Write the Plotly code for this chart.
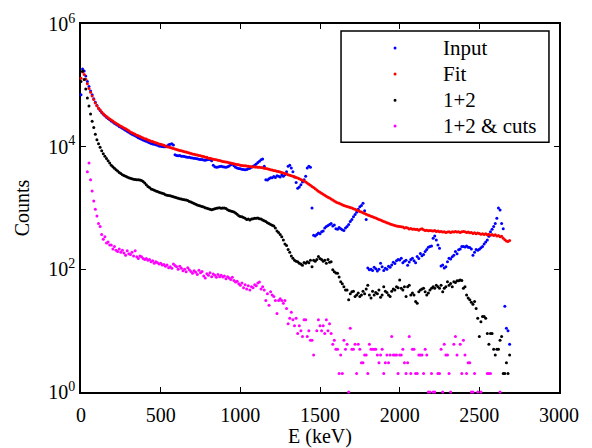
import plotly.graph_objects as go

# energy bins (keV), 10 keV wide
ENERGY = list(range(0, 2700, 10))

INPUT = [
    70000, 185000, 172000, 142000, 116000, 96000, 81000, 70000, 60500, 53000,
    47000, 42500, 39000, 36200, 33800, 31800, 30200, 28800, 27500, 26300,
    25200, 24200, 23200, 22300, 21400, 20700, 19900, 19200, 18500, 17900,
    17200, 16600, 16000, 15500, 15000, 14500, 14000, 13600, 13200, 12800,
    12500, 12200, 11900, 11600, 11300, 11100, 10900, 10700, 10500, 10300,
    10200, 10050, 9950, 10000, 10300, 10700, 11000, 11200, 10600, 7400,
    7200, 7100, 7150, 7000, 6950, 6900, 6800, 6750, 6700, 6600,
    6550, 6450, 6400, 6350, 6250, 6200, 6150, 6050, 6000, 6100,
    6150, 6200, 5900, 5000, 4700, 4600, 4650, 4750, 4800, 4700,
    4650, 4600, 4700, 4850, 5050, 5150, 4900, 4600, 4500, 4400,
    4350, 4300, 4250, 4200, 4250, 4350, 4450, 4600, 4800, 5000,
    5200, 5500, 5800, 6100, 6300, 4800, 2900, 2850, 3000, 3100,
    3100, 3250, 3150, 3350, 3300, 3200, 3450, 3300, 3500, 3900,
    4800, 5000, 4500, 3900, 3200, 2600, 2100, 2200, 2400, 2650,
    2900, 3300, 4500, 4800, 4600, 1000, 360, 350, 370, 390,
    380, 410, 420, 470, 500, 520, 540, 560, 510, 530,
    460, 450, 480, 460, 440, 430, 470, 500, 540, 600,
    650, 720, 780, 850, 950, 1050, 1100, 1200, 900, 650,
    105, 98, 100, 96, 108, 102, 94, 100, 126, 110,
    96, 104, 100, 112, 108, 118, 130, 124, 138, 145,
    142, 151, 128, 135, 141, 117, 132, 145, 151, 138,
    128, 162, 150, 182, 166, 175, 195, 210, 230, 235,
    240, 320, 350, 300, 250, 220, 113, 118, 105, 110,
    133, 151, 148, 160, 170, 195, 180, 208, 215, 235,
    235, 232, 240, 230, 228, 215, 170, 190, 210, 205,
    212, 225, 235, 260, 280, 300, 345, 410, 450, 500,
    560, 680, 1000, 930, 560, 460, 25, 11, 10, 6,
]

FIT = [
    130000, 165000, 150000, 126000, 106000, 89000, 77000, 67000, 58500, 51500,
    46500, 42500, 39500, 36800, 34300, 32600, 30900, 29600, 28200, 27200,
    26100, 25000, 24100, 23100, 22400, 21500, 20900, 20100, 19600, 18800,
    18100, 17400, 16900, 16400, 16000, 15400, 15000, 14700, 14200, 13900,
    13500, 13300, 12900, 12600, 12300, 12100, 11800, 11600, 11400, 11100,
    10900, 10700, 10500, 10300, 10000, 9850, 9650, 9500, 9300, 9150,
    9000, 8850, 8700, 8600, 8400, 8300, 8150, 8050, 7850, 7750,
    7600, 7500, 7400, 7300, 7200, 7100, 7000, 6900, 6750, 6700,
    6500, 6450, 6350, 6250, 6200, 6100, 6000, 5950, 5850, 5750,
    5700, 5600, 5550, 5450, 5400, 5300, 5250, 5150, 5100, 5050,
    5000, 4950, 4900, 4880, 4820, 4800, 4760, 4720, 4700, 4680,
    4650, 4620, 4600, 4560, 4520, 4460, 4420, 4360, 4300, 4220,
    4150, 4100, 4040, 3980, 3920, 3850, 3780, 3720, 3640, 3570,
    3500, 3430, 3370, 3300, 3230, 3150, 3080, 3000, 2920, 2840,
    2750, 2650, 2560, 2450, 2350, 2250, 2150, 2060, 1970, 1880,
    1800, 1740, 1680, 1620, 1560, 1500, 1450, 1400, 1350, 1300,
    1250, 1220, 1190, 1160, 1130, 1100, 1080, 1060, 1040, 1020,
    1000, 975, 950, 925, 900, 880, 860, 840, 815, 790,
    770, 755, 735, 720, 700, 685, 665, 650, 635, 620,
    600, 590, 575, 565, 550, 540, 530, 520, 510, 505,
    500, 495, 490, 470, 480, 470, 455, 465, 450, 455,
    445, 450, 435, 450, 460, 440, 430, 435, 425, 430,
    425, 420, 430, 415, 420, 410, 415, 405, 410, 400,
    405, 410, 400, 410, 405, 415, 405, 410, 400, 410,
    415, 410, 400, 405, 395, 400, 385, 395, 380, 390,
    385, 375, 380, 370, 380, 365, 375, 360, 370, 355,
    365, 350, 355, 340, 345, 320, 305, 290, 285, 295,
]

SUM12 = [
    115000, 170000, 125000, 87000, 62000, 46000, 34000, 26000, 20500, 16000,
    13000, 11200, 9800, 8600, 7700, 7000, 6400, 5900, 5400, 5000,
    4700, 4450, 4200, 4000, 3800, 3650, 3500, 3400, 3300, 3200,
    3100, 3050, 3000, 2950, 2920, 2900, 2880, 2850, 2800, 2700,
    2550, 2400, 2250, 2150, 2050, 2000, 1950, 1900, 1850, 1800,
    1780, 1740, 1700, 1650, 1620, 1600, 1580, 1550, 1520, 1500,
    1470, 1440, 1420, 1400, 1380, 1360, 1350, 1320, 1280, 1250,
    1220, 1180, 1150, 1120, 1100, 1080, 1060, 1040, 1010, 990,
    970, 950, 940, 950, 970, 990, 1000, 1010, 990, 1000,
    1000, 980, 940, 910, 890, 880, 860, 830, 790, 750,
    730, 720, 700, 680, 650, 660, 640, 660, 670, 680,
    680, 690, 670, 660, 640, 620, 600, 575, 560, 540,
    525, 510, 470, 420, 400, 370, 340, 300, 260, 245,
    210, 190, 165, 151, 141, 135, 133, 126, 122, 117,
    129, 126, 133, 128, 141, 110, 141, 135, 145, 162,
    150, 145, 135, 141, 126, 145, 130, 133, 98, 91,
    87, 86, 75, 63, 58, 52, 46, 46, 32, 40,
    43, 44, 36, 38, 41, 36, 38, 44, 40, 48,
    55, 38, 34, 44, 38, 42, 40, 46, 35, 38,
    52, 44, 42, 38, 36, 44, 48, 46, 52, 50,
    67, 49, 46, 52, 36, 52, 55, 38, 41, 38,
    30, 28, 43, 46, 48, 49, 43, 38, 41, 46,
    49, 52, 49, 55, 52, 49, 55, 43, 49, 52,
    63, 55, 59, 52, 63, 61, 65, 65, 67, 66,
    49, 52, 38, 34, 32, 29, 27, 30, 23, 16,
    8, 14, 17, 17, 16, 9, 6, 9, 9, 5,
    4, 5, 5, 7, 8, 2, 2, 3, 2, 4,
]

SUM12_CUTS = [
    None, None, None, None, 3900, 5400, 2900, 1900, 1300, 950,
    740, 560, 500, 370, 310, 340, 270, 280, 250, 250,
    215, 235, 205, 195, 215, 190, 205, 185, 170, 200,
    180, 175, 190, 165, 200, 160, 150, 165, 160, 150,
    145, 150, 141, 145, 133, 138, 126, 133, 128, 122,
    126, 118, 120, 112, 118, 106, 110, 104, 122, 115,
    110, 100, 112, 104, 95, 100, 91, 106, 98, 92,
    86, 95, 90, 82, 97, 88, 92, 78, 72, 85,
    80, 88, 76, 84, 80, 74, 82, 76, 80, 75,
    78, 70, 76, 72, 68, 74, 66, 62, 64, 58,
    55, 60, 50, 56, 48, 54, 46, 52, 50, 56,
    54, 60, 62, 48, 52, 46, 31, 40, 26, 43,
    38, 36, 31, 19, 31, 33, 31, 28, 31, 23,
    13, 16, 20, 15, 12, 16, 9, 12, 10, 8,
    15, 15, 8, 10, 7, 7, 4, None, 10, 15,
    12, 10, 12, 9, 15, 10, 13, 9, 6, 7,
    5, 5, 2, 4, 2, 7, 5, 6, 1, 11,
    5, 5, 6, 2, 6, 5, 3, 3, 4, 4,
    2, 6, 5, 5, 5, 5, 4, 3, 4, 5,
    2, 3, 4, 3, 4, 8, 4, 4, 4, 2,
    4, 4, 5, 3, 2, 3, 8, 2, 5, 5,
    2, 2, 4, 4, 4, 2, 5, 4, 1, 1,
    2, 1, 1, None, 2, 2, 5, 1, 6, 4,
    4, 2, 1, None, 6, 8, 4, None, 6, 2,
    7, 4, 2, 3, 3, 1, 1, 2, None, 1,
    None, 1, None, None, None, 2, 2, 2, None, None,
    None, None, None, 1, None, None, None, None, None, None,
]

SERIES = [
    ("Input", INPUT, "#0000ff"),
    ("Fit", FIT, "#ff0000"),
    ("1+2", SUM12, "#000000"),
    ("1+2 & cuts", SUM12_CUTS, "#ff00ff"),
]

FONT = "Liberation Serif"

fig = go.Figure()
for name, vals, color in SERIES:
    fig.add_trace(go.Scatter(
        x=ENERGY, y=vals, mode="markers", name=name,
        marker=dict(color=color, size=3, line=dict(width=0)),
        cliponaxis=False,
    ))

axis_style = dict(
    showline=True, linecolor="black", linewidth=1.6, mirror="ticks",
    ticks="inside", ticklen=5, tickwidth=1, tickcolor="black",
    showgrid=False, zeroline=False, layer="below traces", automargin=False,
    tickfont=dict(family=FONT, size=20, color="black"),
)

fig.update_xaxes(
    range=[0, 3000], tickvals=[0, 500, 1000, 1500, 2000, 2500, 3000],
    ticklabelstandoff=4,
    title=dict(text="E (keV)", standoff=12, font=dict(family=FONT, size=20)),
    **axis_style,
)
fig.update_yaxes(
    type="log", range=[0, 6], tickvals=[1, 1e2, 1e4, 1e6],
    ticktext=["10<sup>0</sup>", "10<sup>2</sup>", "10<sup>4</sup>", "10<sup>6</sup>"],
    title=dict(text="Counts", standoff=13, font=dict(family=FONT, size=20)),
    **axis_style,
)

# hand-drawn legend box, MATLAB style
legend_rows = [0.935, 0.864, 0.793, 0.723]
shapes = [dict(type="rect", xref="paper", yref="paper", x0=0.544, x1=0.979,
               y0=0.679, y1=0.981, line=dict(color="black", width=1.5),
               fillcolor="white")]
annotations = []
for (name, _, color), ry in zip(SERIES, legend_rows):
    shapes.append(dict(type="circle", xref="paper", yref="paper",
                       xsizemode="pixel", ysizemode="pixel",
                       xanchor=0.657, yanchor=ry, x0=-1.5, x1=1.5, y0=-1.5, y1=1.5,
                       fillcolor=color, line=dict(width=0)))
    annotations.append(dict(text=name, xref="paper", yref="paper", x=0.753, y=ry,
                            xanchor="left", yanchor="middle", showarrow=False,
                            font=dict(family=FONT, size=21, color="black")))

fig.update_layout(
    width=592, height=448,
    margin=dict(l=81, r=33, t=24, b=56),
    paper_bgcolor="white", plot_bgcolor="white",
    font=dict(family=FONT, size=20, color="black"),
    showlegend=False,
    shapes=shapes, annotations=annotations,
)

fig.write_html("out.html", config={"displayModeBar": False},
               post_script="document.body.style.margin='0px';")
